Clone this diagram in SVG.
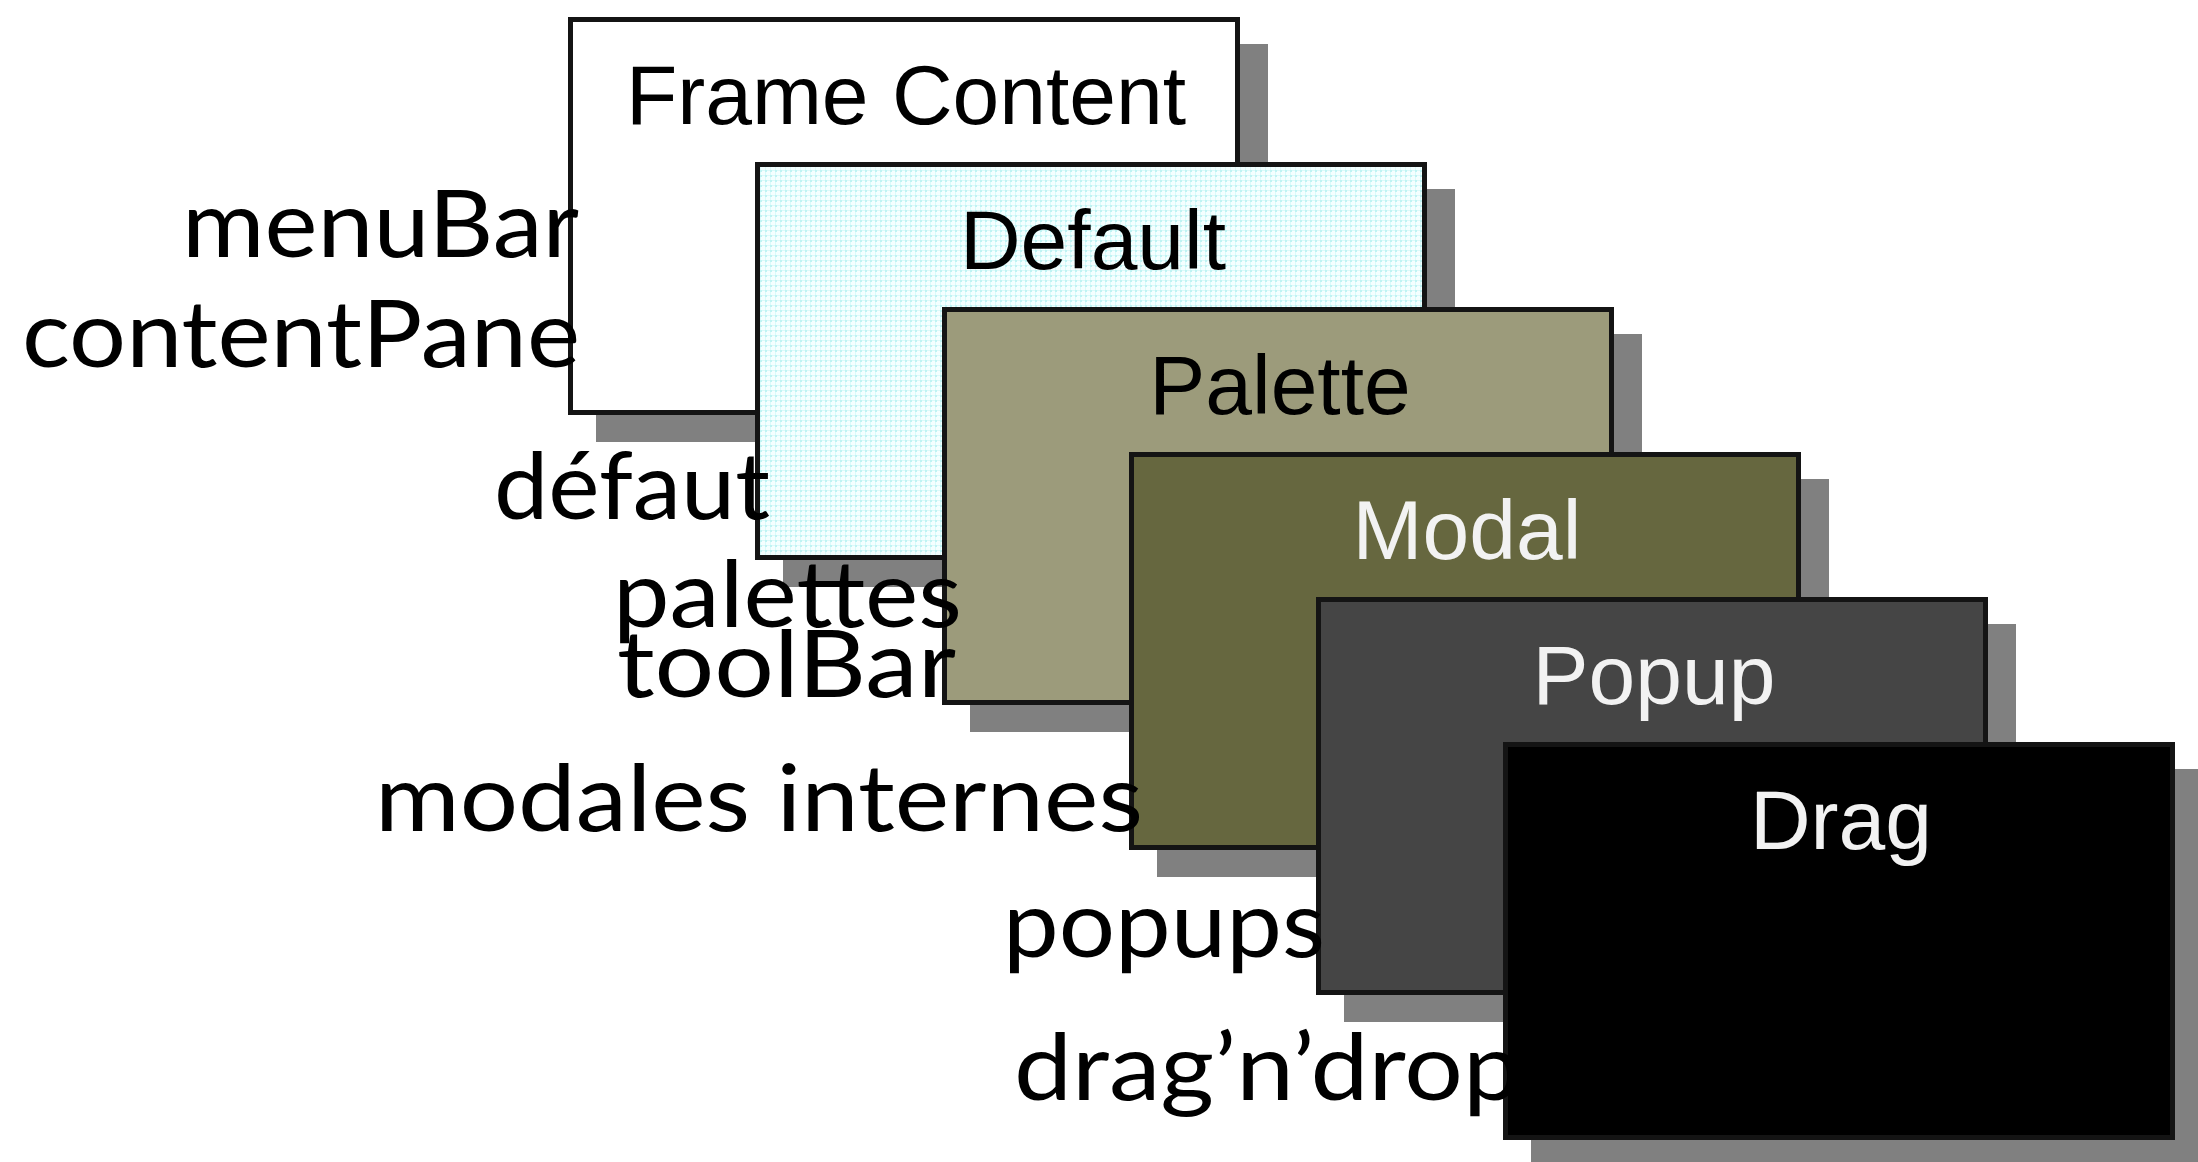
<svg xmlns="http://www.w3.org/2000/svg" width="2198" height="1162" viewBox="0 0 2198 1162">
<style>
.shadow{fill:#808080}
.box{stroke:#141414;stroke-width:5}
.t{font-family:"Liberation Sans",Arial,sans-serif;font-size:84px;text-anchor:middle}
.lbl{font-family:Lato,"Open Sans",sans-serif;font-size:94px;text-anchor:end;fill:#000}
</style>
<defs>
<pattern id="dots" width="5" height="5" patternUnits="userSpaceOnUse">
<rect width="5" height="5" fill="#f4ffff"/>
<rect width="2" height="2" fill="#bff3f3"/>
<rect x="0" y="2" width="1" height="3" fill="#dafafa"/>
<rect x="2" y="0" width="3" height="1" fill="#dafafa"/>
</pattern>
</defs>
<rect width="2198" height="1162" fill="#fff"/>
<g id="frame-content">
<rect class="shadow" x="596" y="44" width="672" height="398"/>
<rect class="box" x="570.5" y="19.5" width="667" height="393" fill="#fff"/>
<text class="t" x="906" y="124" fill="#000">Frame Content</text>
</g>
<g id="default">
<rect class="shadow" x="783" y="189" width="672" height="398"/>
<rect class="box" x="757.5" y="164.5" width="667" height="393" fill="url(#dots)"/>
<text class="t" x="1093" y="269" fill="#000">Default</text>
</g>
<g id="palette">
<rect class="shadow" x="970" y="334" width="672" height="398"/>
<rect class="box" x="944.5" y="309.5" width="667" height="393" fill="#9c9b7b"/>
<text class="t" x="1280" y="414" fill="#000">Palette</text>
</g>
<g id="modal">
<rect class="shadow" x="1157" y="479" width="672" height="398"/>
<rect class="box" x="1131.5" y="454.5" width="667" height="393" fill="#66673f"/>
<text class="t" x="1467" y="559" fill="#f2f2f2">Modal</text>
</g>
<g id="popup">
<rect class="shadow" x="1344" y="624" width="672" height="398"/>
<rect class="box" x="1318.5" y="599.5" width="667" height="393" fill="#454545"/>
<text class="t" x="1654" y="704" fill="#f2f2f2">Popup</text>
</g>
<g id="drag">
<rect class="shadow" x="1531" y="769" width="672" height="398"/>
<rect class="box" x="1505.5" y="744.5" width="667" height="393" fill="#000" stroke="#000"/>
<text class="t" x="1841" y="849" fill="#f2f2f2">Drag</text>
</g>
<g id="connectors"></g>
<g id="labels">
<text class="lbl" x="579" y="257" textLength="397" lengthAdjust="spacingAndGlyphs">menuBar</text>
<text class="lbl" x="580" y="367" textLength="558" lengthAdjust="spacingAndGlyphs">contentPane</text>
<text class="lbl" x="770" y="519" textLength="276" lengthAdjust="spacingAndGlyphs">défaut</text>
<text class="lbl" x="962" y="627" textLength="349" lengthAdjust="spacingAndGlyphs">palettes</text>
<text class="lbl" x="956" y="697" textLength="339" lengthAdjust="spacingAndGlyphs">toolBar</text>
<text class="lbl" x="1143" y="831" textLength="768" lengthAdjust="spacingAndGlyphs">modales internes</text>
<text class="lbl" x="1325" y="957" textLength="322" lengthAdjust="spacingAndGlyphs">popups</text>
<text class="lbl" x="1521" y="1100" textLength="507" lengthAdjust="spacingAndGlyphs">drag’n’drop</text>
</g>
</svg>
